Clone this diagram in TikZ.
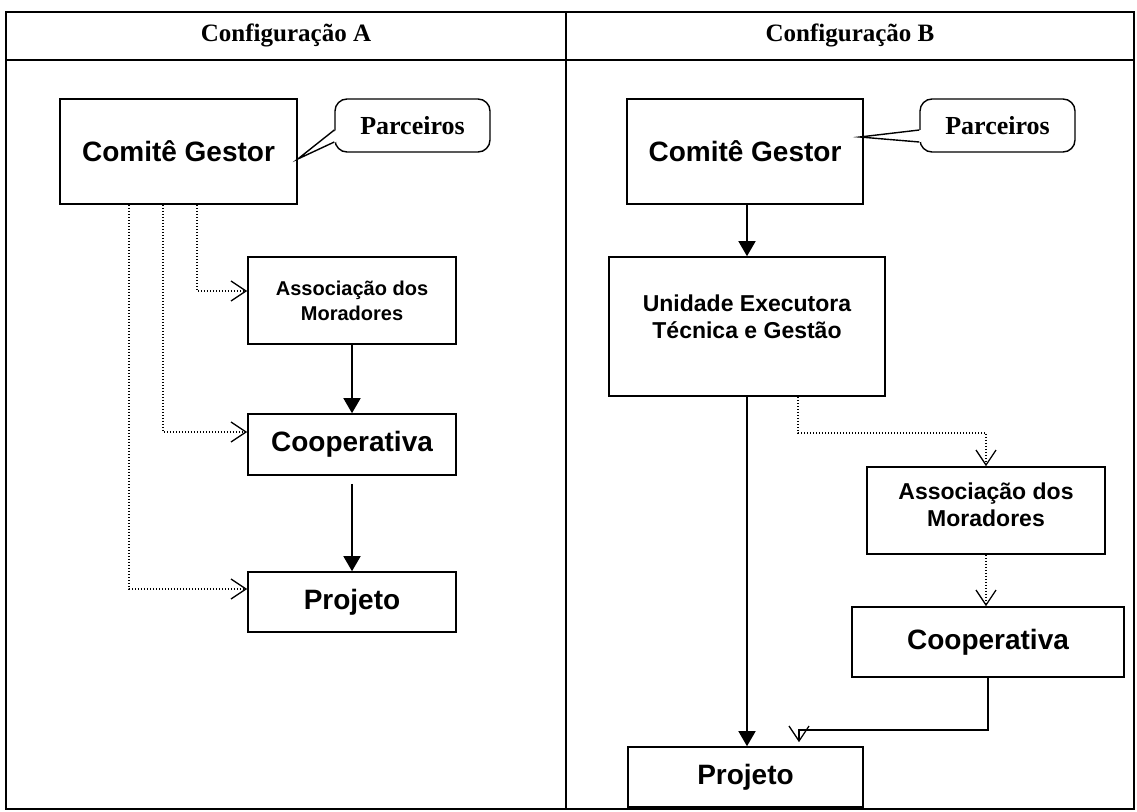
\documentclass[tikz,border=0pt]{standalone}
\usepackage{fontspec}
\setmainfont{Liberation Serif}
\newfontfamily\arialfont{Liberation Sans}
\usetikzlibrary{arrows.meta}

\begin{document}
\begin{tikzpicture}[x=1pt, y=-1pt,
  frame/.style={line width=1.6pt},
  head/.style={font=\bfseries\fontsize{25}{29}\selectfont},
  box/.style={draw, line width=1.6pt, inner sep=0pt, align=center},
  bigbox/.style={box, font=\arialfont\bfseries\fontsize{28}{32}\selectfont},
  midbox/.style={box, font=\arialfont\bfseries\fontsize{23}{27}\selectfont},
  smallbox/.style={box, font=\arialfont\bfseries\fontsize{20}{25}\selectfont},
  callout/.style={draw, line width=1.4pt, rounded corners=12pt, inner sep=0pt,
    minimum width=155pt, minimum height=53pt, font=\bfseries\fontsize{26}{30}\selectfont},
  solidarrow/.style={line width=1.5pt, -{Triangle[length=15pt, width=17pt]}},
  openarrow/.style={line width=1.4pt, -{Straight Barb[length=15pt, width=20pt, line width=1.3pt]}},
  dotarrow/.style={openarrow, line width=1.4pt, dash pattern=on 1.4pt off 1.6pt}]
\useasboundingbox (0,0) rectangle (1137,811);

% table
\draw[frame] (6,12) rectangle (1134,809);
\draw[frame] (6,60) -- (1134,60);
\draw[frame] (566,12) -- (566,809);
\node[head] (headA) at (286,35) {Configuração A};
\node[head] (headB) at (850,35) {Configuração B};

% configuracao A
\node[bigbox, minimum width=237pt, minimum height=105pt] (cgA) at (178.5,151.5) {Comitê Gestor};
\node[callout] (callA) at (412.5,125.5) {Parceiros};
\node[smallbox, minimum width=208pt, minimum height=87pt] (amA) at (352,300.5) {Associação dos\\Moradores};
\node[bigbox, minimum width=208pt, minimum height=61pt] (coA) at (352,444.5) {Cooperativa};
\node[bigbox, minimum width=208pt, minimum height=60pt] (prA) at (352,602) {Projeto};

\fill[white] ([xshift=2pt, yshift=-4.5pt]callA.west) -- ([xshift=2pt, yshift=-16.5pt]callA.west)
  -- ([yshift=-7.5pt]cgA.east) -- cycle;
\draw[line width=1.4pt] ([yshift=-4.5pt]callA.west) -- ([yshift=-7.5pt]cgA.east)
  -- ([yshift=-16.5pt]callA.west);

\draw[dotarrow] ([xshift=18.5pt]cgA.south) |- ([yshift=9.5pt]amA.west);
\draw[dotarrow] ([xshift=-15.5pt]cgA.south) |- ([yshift=12.5pt]coA.west);
\draw[dotarrow] ([xshift=-49.5pt]cgA.south) |- ([yshift=13pt]prA.west);
\draw[solidarrow] (amA.south) -- (coA.north);
\draw[solidarrow, shorten <=8pt] (coA.south) -- (prA.north);

% configuracao B
\node[bigbox, minimum width=236pt, minimum height=105pt] (cgB) at (745,151.5) {Comitê Gestor};
\node[callout] (callB) at (997.5,125.5) {Parceiros};
\node[midbox, minimum width=276pt, minimum height=139pt] (ueB) at (747,326.5) {Unidade Executora\\Técnica e Gestão\\[-7pt]\mbox{}};
\node[midbox, minimum width=238pt, minimum height=87pt] (amB) at (986,510.5) {Associação dos\\Moradores\\[-15pt]\mbox{}};
\node[bigbox, minimum width=272pt, minimum height=70pt] (coB) at (988,642) {Cooperativa};
\node[bigbox, minimum width=235pt, minimum height=60pt] (prB) at (745.5,777) {Projeto};

\fill[white] ([xshift=2pt, yshift=-4.5pt]callB.west) -- ([xshift=2pt, yshift=-16.5pt]callB.west)
  -- ([xshift=-4pt, yshift=14.5pt]cgB.east) -- cycle;
\draw[line width=1.4pt] ([yshift=-4.5pt]callB.west) -- ([xshift=-4pt, yshift=14.5pt]cgB.east)
  -- ([yshift=-16.5pt]callB.west);

\draw[solidarrow] (ueB.north |- cgB.south) -- (ueB.north);
\draw[solidarrow] (ueB.south) -- (ueB.south |- prB.north);
\draw[dotarrow] ([xshift=51pt]ueB.south) -- ++(0,36) -| (amB.north);
\draw[dotarrow] (amB.south) -- (amB.south |- coB.north);
\draw[openarrow, shorten >=4pt] (coB.south) -- ++(0,52) -| ([xshift=53.5pt]prB.north);
\end{tikzpicture}
\end{document}
